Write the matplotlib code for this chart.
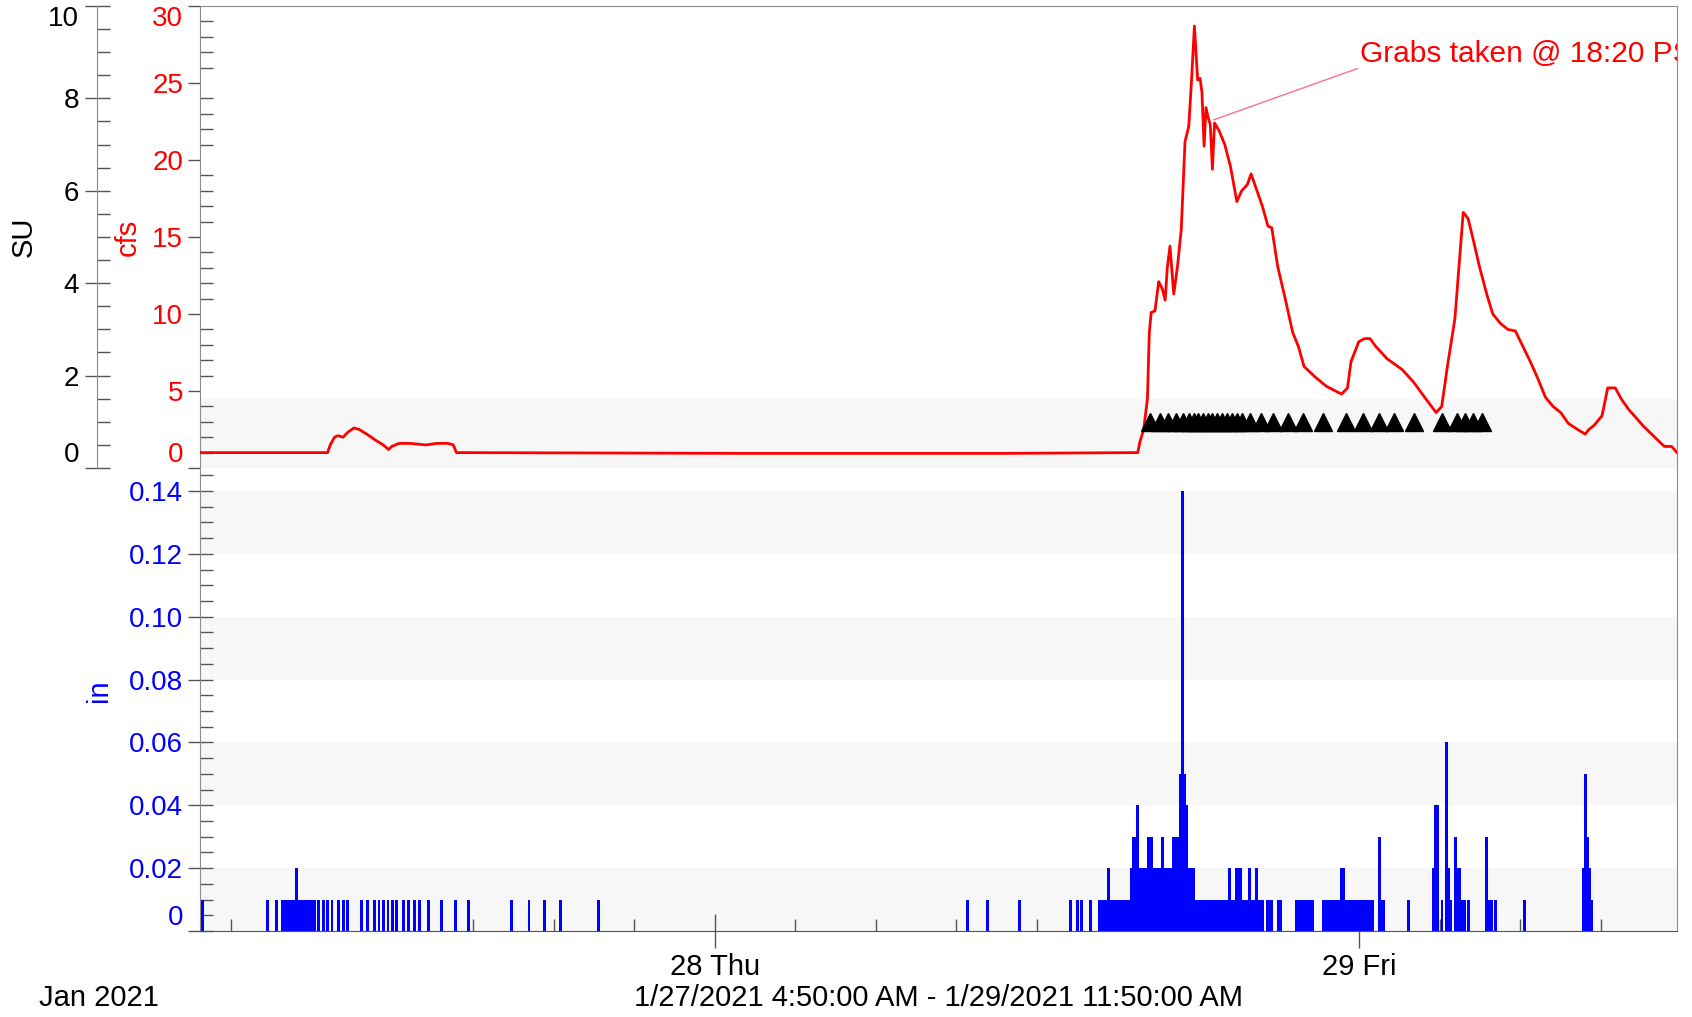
import numpy as np
import pandas as pd
import matplotlib
matplotlib.use("Agg")
import matplotlib.pyplot as plt
import matplotlib.dates as mdates
from matplotlib.ticker import MultipleLocator, FuncFormatter

plt.rcParams['font.family'] = ['Liberation Sans', 'DejaVu Sans']

# ---------------- data ----------------
START = pd.Timestamp("2021-01-27 04:50")
END = pd.Timestamp("2021-01-29 11:50")

# flow (cfs): hours after START, value
flow_hours = [0.0, 4.75, 4.85, 5.01, 5.13, 5.33, 5.49, 5.73, 5.93, 6.21, 6.54, 6.82, 7.02, 7.14,
              7.42, 7.82, 8.42, 8.83, 9.23, 9.43, 9.55, 20.0, 30.0, 34.92, 35.00, 35.14, 35.28,
              35.35, 35.42, 35.56, 35.70, 35.84, 35.94, 36.02, 36.12, 36.26, 36.40, 36.54, 36.68,
              36.82, 36.92, 37.03, 37.15, 37.24, 37.31, 37.39, 37.46, 37.55, 37.62, 37.70, 37.78,
              37.95, 38.16, 38.37, 38.61, 38.79, 39.00, 39.14, 39.28, 39.56, 39.77, 39.91, 40.13,
              40.41, 40.69, 40.90, 41.11, 41.53, 41.95, 42.51, 42.73, 42.86, 43.15, 43.36, 43.57,
              43.78, 44.20, 44.76, 45.18, 45.60, 46.03, 46.24, 46.45, 46.73, 46.94, 47.04, 47.22,
              47.43, 47.64, 47.93, 48.14, 48.42, 48.70, 48.98, 49.12, 49.54, 49.82, 50.10, 50.38,
              50.67, 50.95, 51.30, 51.58, 51.72, 51.93, 52.21, 52.42, 52.70, 52.92, 53.20, 53.76,
              54.32, 54.53, 54.80, 55.0]
flow_cfs = [1.0, 1.0, 1.5, 2.0, 2.1, 2.0, 2.3, 2.6, 2.5, 2.2, 1.8, 1.5, 1.2, 1.4,
            1.6, 1.6, 1.5, 1.6, 1.6, 1.5, 1.0, 0.95, 0.95, 1.0, 1.7, 2.5, 4.5,
            8.8, 10.1, 10.2, 12.1, 11.6, 10.9, 13.0, 14.4, 11.3, 13.1, 15.5, 21.2,
            22.2, 25.1, 28.7, 25.2, 25.3, 24.4, 20.9, 23.4, 22.7, 22.3, 19.4, 22.4,
            21.9, 21.0, 19.6, 17.3, 18.0, 18.4, 19.1, 18.4, 17.0, 15.7, 15.6, 13.1,
            11.0, 8.8, 7.9, 6.6, 5.9, 5.3, 4.8, 5.2, 6.9, 8.2, 8.4, 8.4,
            7.9, 7.1, 6.4, 5.6, 4.6, 3.6, 4.0, 6.6, 9.7, 14.4, 16.6, 16.2,
            14.7, 13.1, 11.2, 10.0, 9.4, 9.0, 8.9, 8.4, 6.9, 5.8, 4.6, 4.0,
            3.6, 2.9, 2.5, 2.2, 2.5, 2.8, 3.4, 5.2, 5.2, 4.5, 3.8, 2.7,
            1.75, 1.4, 1.4, 1.0]

# grab samples: hours after START, plotted at SU = 1
grab_hours = [35.38, 35.73, 36.04, 36.35, 36.62, 36.81, 37.00, 37.18, 37.34, 37.52, 37.69,
              37.87, 38.05, 38.24, 38.42, 38.61, 38.80, 39.11, 39.52, 39.97, 40.53, 41.07,
              41.81, 42.68, 43.29, 43.89, 44.47, 45.19, 46.25, 46.81, 47.12, 47.42, 47.74]
grab_su = [1.0] * len(grab_hours)

# rain (in) per 5-minute slot after START
rain_slot = [1, 30, 34, 37, 38, 39, 40, 41, 42, 43, 44, 45, 46, 47, 48, 49, 50, 51,
             53, 55, 57, 59, 62, 64, 66, 72, 75, 78, 80, 82, 84, 86, 88, 91, 93, 96, 98,
             102, 108, 114, 120, 139, 147, 154, 161, 178,
             343, 352, 366, 389, 392, 394, 398, 402, 403, 404, 405, 406, 407, 408, 409,
             410, 411, 412, 413, 414, 415,
             416, 417, 418, 419, 420, 421, 422, 423, 424, 425, 426, 427, 428, 429, 430,
             431, 432, 433, 434, 435, 436, 437, 438, 439, 440, 441, 442, 443, 444,
             445, 446, 447, 448, 449, 450, 451, 452, 453, 454, 455, 456, 457, 458, 459,
             460, 461, 462, 463, 464, 465, 466, 467, 468, 469, 470, 471, 472, 473, 474,
             475, 477, 478, 479, 482, 483, 490, 491, 492, 493, 494, 495, 496, 497,
             502, 503, 504, 505, 506, 507, 508, 509, 510, 511, 512, 513, 514, 515, 516,
             517, 518, 519, 520, 521, 522, 523, 524, 527, 528, 529, 540,
             551, 552, 553, 555, 557, 558, 559, 561, 562, 563, 564, 565, 567,
             575, 576, 577, 579, 592, 618, 619, 620, 621, 622]
rain_in = [0.01, 0.01, 0.01, 0.01, 0.01, 0.01, 0.01, 0.01, 0.01, 0.02, 0.01, 0.01, 0.01, 0.01, 0.01, 0.01, 0.01, 0.01,
           0.01, 0.01, 0.01, 0.01, 0.01, 0.01, 0.01, 0.01, 0.01, 0.01, 0.01, 0.01, 0.01, 0.01, 0.01, 0.01, 0.01, 0.01, 0.01,
           0.01, 0.01, 0.01, 0.01, 0.01, 0.01, 0.01, 0.01, 0.01,
           0.01, 0.01, 0.01, 0.01, 0.01, 0.01, 0.01, 0.01, 0.01, 0.01, 0.01, 0.02, 0.01, 0.01, 0.01,
           0.01, 0.01, 0.01, 0.01, 0.01, 0.01,
           0.02, 0.03, 0.03, 0.04, 0.02, 0.02, 0.02, 0.02, 0.03, 0.03, 0.02, 0.02, 0.02, 0.02, 0.03,
           0.02, 0.02, 0.02, 0.02, 0.03, 0.03, 0.03, 0.05, 0.14, 0.05, 0.04, 0.02, 0.02, 0.02,
           0.01, 0.01, 0.01, 0.01, 0.01, 0.01, 0.01, 0.01, 0.01, 0.01, 0.01, 0.01, 0.01, 0.01, 0.01,
           0.02, 0.01, 0.01, 0.02, 0.02, 0.02, 0.01, 0.01, 0.01, 0.02, 0.01, 0.01, 0.02, 0.01, 0.01,
           0.01, 0.01, 0.01, 0.01, 0.01, 0.01, 0.01, 0.01, 0.01, 0.01, 0.01, 0.01, 0.01, 0.01,
           0.01, 0.01, 0.01, 0.01, 0.01, 0.01, 0.01, 0.01, 0.02, 0.02, 0.01, 0.01, 0.01, 0.01, 0.01,
           0.01, 0.01, 0.01, 0.01, 0.01, 0.01, 0.01, 0.01, 0.03, 0.01, 0.01, 0.01,
           0.02, 0.04, 0.04, 0.01, 0.06, 0.02, 0.01, 0.03, 0.02, 0.02, 0.01, 0.01, 0.01,
           0.03, 0.01, 0.01, 0.01, 0.01, 0.02, 0.05, 0.03, 0.02, 0.01]

annot_text = "Grabs taken @ 18:20 PST"

# ---------------- conversions ----------------
flow_t = [START + pd.Timedelta(hours=h) for h in flow_hours]
grab_t = [START + pd.Timedelta(hours=h) for h in grab_hours]
rain_t = [START + pd.Timedelta(minutes=5 * s) for s in rain_slot]

RED = "#ff0000"
BLUE = "#0000ff"
FRAME = "#8c8c8c"
TICKC = "#555555"
BAND = "#f7f7f7"
YTS = 20

fig = plt.figure(figsize=(16.92, 10.17), dpi=100)
L, R = 200 / 1692, 1677 / 1692
ytop, ymid, ybot = 1 - 6 / 1017, 1 - 468 / 1017, 1 - 931 / 1017
ax = fig.add_axes([L, ymid, R - L, ytop - ymid])
axb = fig.add_axes([L, ybot, R - L, ymid - ybot], sharex=ax)

# ---------------- top panel ----------------
ax.set_ylim(0, 30)
ax.set_xlim(START, END)
for lo, hi in [(0, 4.5)]:
    ax.axhspan(lo, hi, color=BAND, zorder=0, lw=0)
ax.plot(flow_t, flow_cfs, color=RED, lw=2.0, zorder=3)

ax.yaxis.set_major_locator(MultipleLocator(5))
ax.yaxis.set_minor_locator(MultipleLocator(1))
ax.tick_params(axis='y', which='major', direction='out', length=9, width=1, color=TICKC,
               labelcolor=RED, labelsize=YTS, pad=3)
ax.tick_params(axis='y', which='minor', direction='in', length=9, width=1, color=TICKC)
ax.tick_params(axis='x', which='both', bottom=False, labelbottom=False)
for s in ax.spines.values():
    s.set_color(FRAME)
ax.set_ylabel("cfs", color=RED, fontsize=21)
ax.yaxis.set_label_coords(-0.0393, 0.5)

# SU axis
su = ax.twinx()
su.set_ylim(0, 10)
su.yaxis.set_ticks_position('left')
su.yaxis.set_label_position('left')
su.spines['left'].set_position(('outward', 74))
su.spines['left'].set_color(FRAME)
su.spines['right'].set_visible(False)
su.spines['top'].set_visible(False)
su.spines['bottom'].set_visible(False)
su.yaxis.set_major_locator(MultipleLocator(2))
su.yaxis.set_minor_locator(MultipleLocator(0.5))
su.tick_params(axis='y', which='major', direction='inout', length=18, width=1, color=TICKC,
               labelcolor='black', labelsize=YTS, pad=4)
su.tick_params(axis='y', which='minor', direction='in', length=9, width=1, color=TICKC)
su.set_ylabel("SU", color='black', fontsize=21)
su.yaxis.set_label_coords(-0.1097, 0.5)
su.plot(grab_t, grab_su, linestyle='none', marker='^', markersize=12.5, color='black',
        zorder=4, clip_on=False)

ann = su.annotate(annot_text, xy=(START + pd.Timedelta(hours=37.73), 22.6 / 3),
                  xytext=(START + pd.Timedelta(hours=43.2), 26.0 / 3),
                  color=RED, fontsize=21.5, ha='left', va='bottom', clip_on=True,
                  arrowprops=dict(arrowstyle='-', color='#ff6f8a', lw=1.0,
                                  shrinkA=0, shrinkB=0, relpos=(0, 0)))

# ---------------- bottom panel ----------------
axb.set_ylim(0, 0.1473)
for lo, hi in [(0, 0.02), (0.04, 0.06), (0.08, 0.10), (0.12, 0.14)]:
    axb.axhspan(lo, hi, color=BAND, zorder=0, lw=0)
axb.bar(rain_t, rain_in, width=pd.Timedelta(minutes=6.5), align='center', color=BLUE,
        lw=0, zorder=3)
axb.yaxis.set_major_locator(MultipleLocator(0.02))
axb.yaxis.set_minor_locator(MultipleLocator(0.005))
axb.yaxis.set_major_formatter(FuncFormatter(lambda v, p: "0" if abs(v) < 1e-9 else f"{v:.2f}"))
axb.tick_params(axis='y', which='major', direction='inout', length=18, width=1, color=TICKC,
                labelcolor=BLUE, labelsize=YTS, pad=3)
axb.tick_params(axis='y', which='minor', direction='in', length=9, width=1, color=TICKC)
axb.xaxis.set_major_locator(mdates.DayLocator())
axb.xaxis.set_major_formatter(mdates.DateFormatter('%d %a'))
axb.xaxis.set_minor_locator(mdates.HourLocator(byhour=range(0, 24, 3)))
axb.tick_params(axis='x', which='major', direction='inout', length=24, width=1, color=TICKC,
                labelsize=21, pad=4, labelcolor='black')
axb.tick_params(axis='x', which='minor', direction='in', length=9, width=1, color=TICKC)
for s in axb.spines.values():
    s.set_color(FRAME)
axb.spines['bottom'].set_color('#555555')
axb.spines['top'].set_visible(False)
axb.set_ylabel("in", color=BLUE, fontsize=21)
axb.yaxis.set_label_coords(-0.0589, 0.52)
axb.set_xlim(START, END)

fig.text(99 / 1692, 1 - 998 / 1017, "Jan 2021", fontsize=21, ha='center', va='center')
fig.text((L + R) / 2, 1 - 998 / 1017,
         f"{START.month}/{START.day}/{START.year} 4:50:00 AM - {END.month}/{END.day}/{END.year} 11:50:00 AM",
         fontsize=21, ha='center', va='center')

# keep edge tick labels inside the panels
fig.canvas.draw()
for a in (ax, su):
    ticks = a.yaxis.get_major_ticks()
    locs = a.yaxis.get_majorticklocs()
    lo, hi = a.get_ylim()
    for t, v in zip(ticks, locs):
        if abs(v - hi) < 1e-9:
            t.label1.set_va('top')
        elif abs(v - lo) < 1e-9:
            t.label1.set_va('bottom')
ticks = axb.yaxis.get_major_ticks()
for t, v in zip(ticks, axb.yaxis.get_majorticklocs()):
    if abs(v) < 1e-9:
        t.label1.set_va('bottom')

fig.savefig("out.png", dpi=100)
